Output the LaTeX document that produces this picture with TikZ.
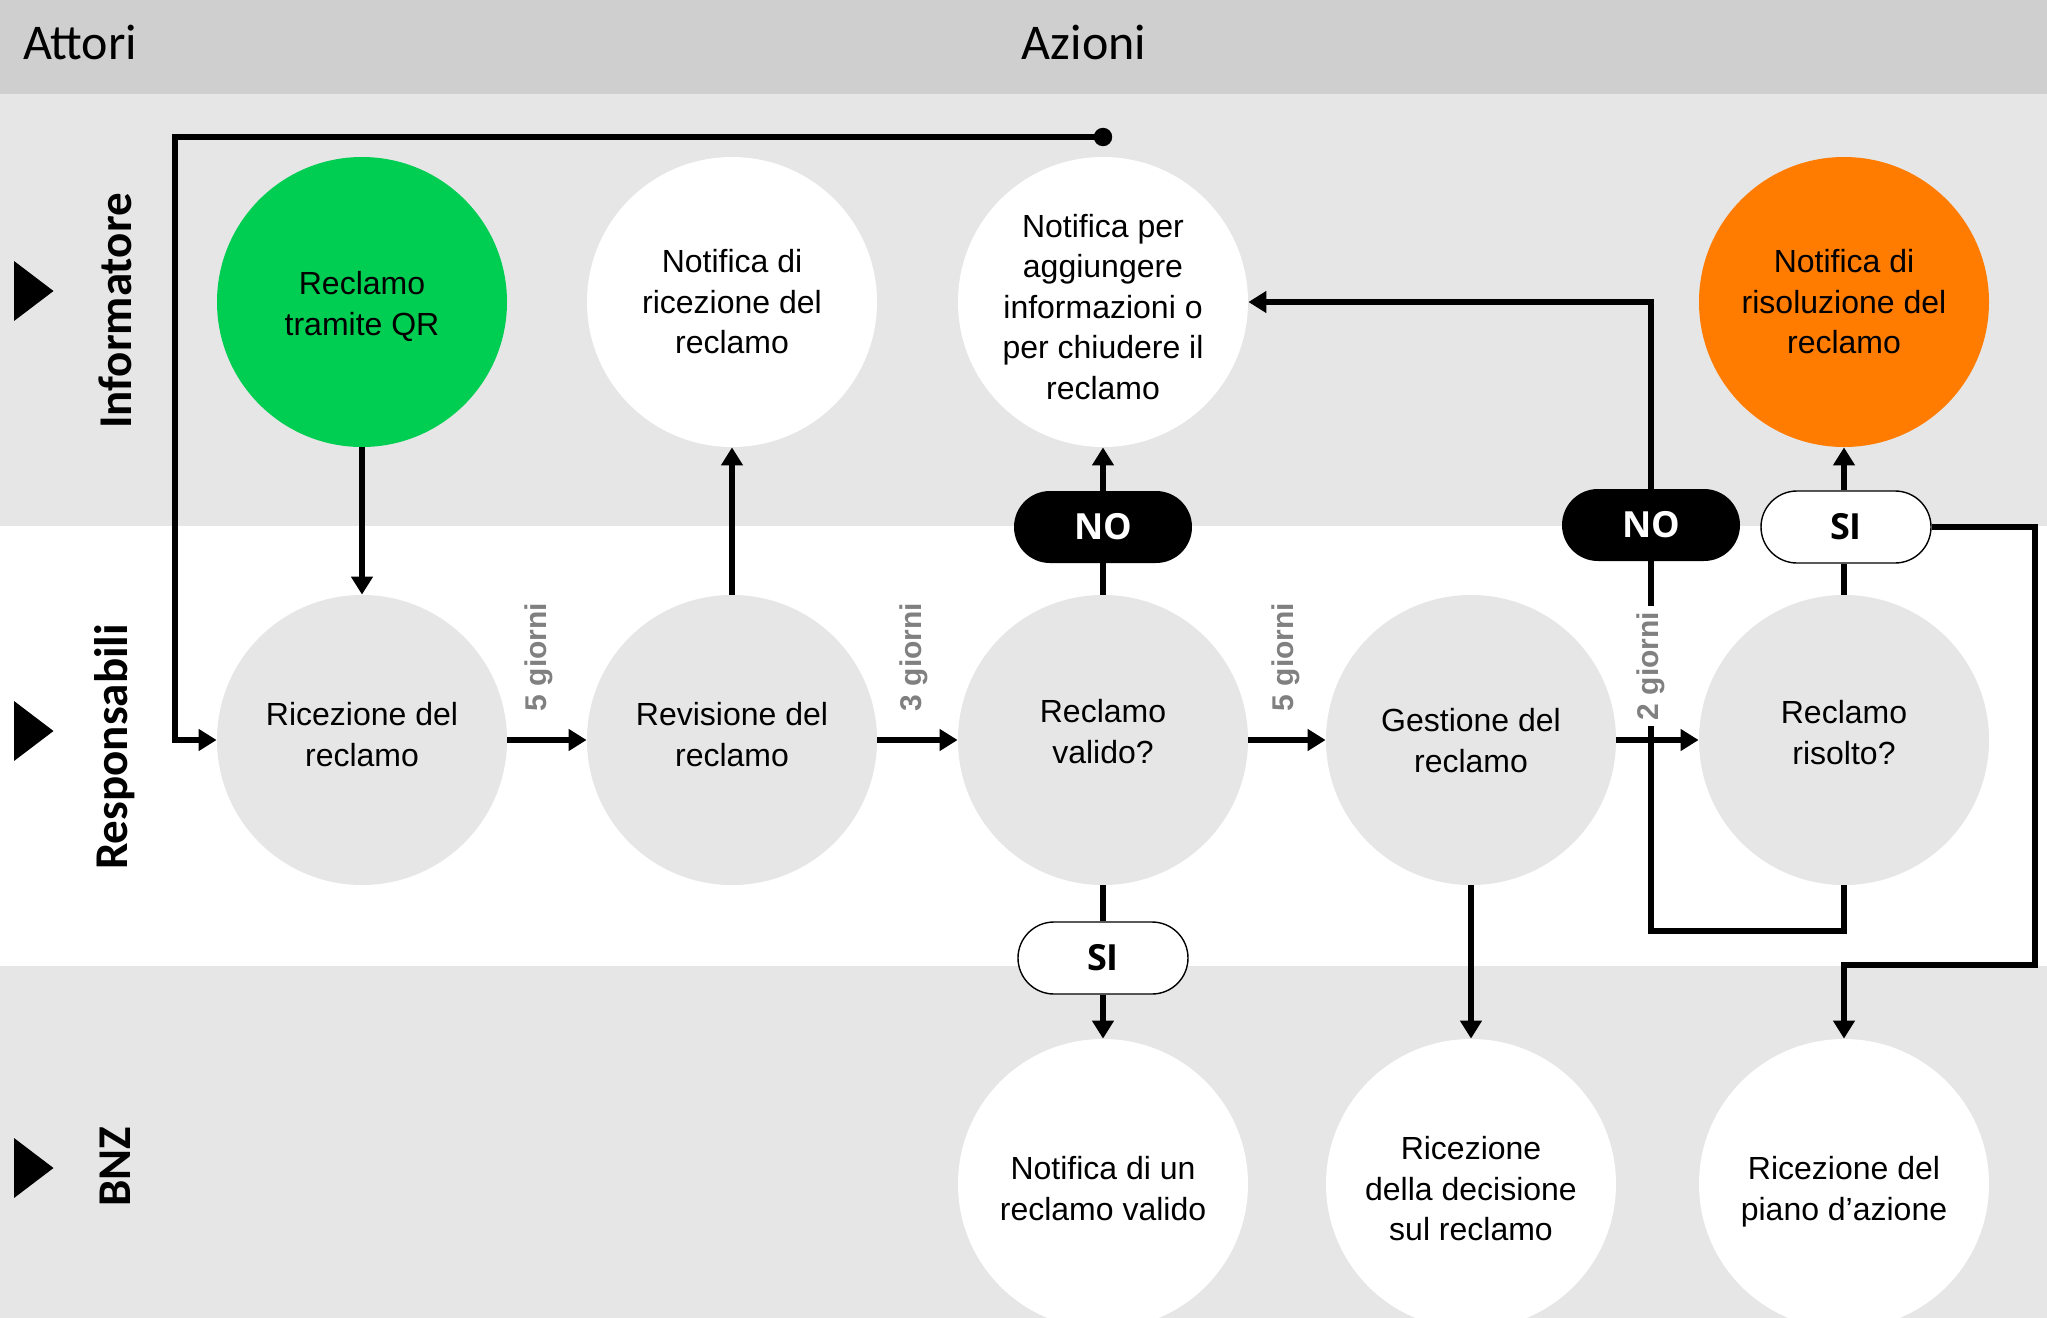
\documentclass[tikz,border=0pt]{standalone}
\usepackage{fontspec}
\setmainfont{Liberation Sans}
\newfontfamily\hdrfont{Carlito}
\newfontfamily\pillfont{Open Sans}
\usetikzlibrary{arrows.meta}
\definecolor{hdrgray}{RGB}{208,207,208}
\definecolor{lanegray}{RGB}{230,230,230}
\definecolor{qrgreen}{RGB}{0,206,82}
\definecolor{resorange}{RGB}{255,124,0}
\definecolor{daysgray}{RGB}{128,128,128}
\newcommand{\shiftlines}[2]{\raisebox{#1}[\height][\depth]{\begin{tabular}{@{}c@{}}#2\end{tabular}}}
\begin{document}
\begin{tikzpicture}[x=0.5pt,y=-0.5pt,
  conn/.style={line width=2.6pt,-{Triangle[length=9pt,width=10.5pt]}},
  plain/.style={line width=2.6pt},
  bubble/.style={circle,minimum size=145pt,inner sep=0pt,align=center,
    font=\fontsize{16}{20.25}\selectfont},
  topb/.style={bubble,fill=white},
  midb/.style={bubble,fill=lanegray},
  botb/.style={bubble,fill=white},
  pillno/.style={rectangle,rounded corners=18pt,fill=black,text=white,
    minimum width=89pt,minimum height=36pt,inner sep=0pt,
    font=\pillfont\bfseries\fontsize{18}{20}\selectfont},
  pillsi/.style={rectangle,rounded corners=18pt,fill=white,draw=black,line width=0.7pt,
    minimum width=85pt,minimum height=36pt,inner sep=0pt,
    font=\pillfont\bfseries\fontsize{18}{20}\selectfont},
  days/.style={rotate=90,text=daysgray,inner sep=3pt,
    font=\bfseries\fontsize{15}{17}\selectfont},
  lanelbl/.style={rotate=90,font=\hdrfont\bfseries\fontsize{23.5}{26}\selectfont},
  hdrlbl/.style={font=\hdrfont\fontsize{25}{28}\selectfont}
]
\clip (0,0) rectangle (2047,1318);
% backgrounds
\fill[hdrgray] (0,0) rectangle (2047,94);
\fill[lanegray] (0,94) rectangle (2047,526);
\fill[white] (0,526) rectangle (2047,966);
\fill[lanegray] (0,966) rectangle (2047,1318);

% header
\node[hdrlbl,anchor=west] (hattori) at (16,42) {Attori};
\node[hdrlbl] (hazioni) at (1084,42) {Azioni};

% lane markers
\fill (14,261) -- (53.5,291) -- (14,321) -- cycle;
\fill (14,701) -- (53.5,731) -- (14,761) -- cycle;
\fill (14,1138) -- (53.5,1168) -- (14,1198) -- cycle;
\node[lanelbl] (linf) at (115,311) {Informatore};
\node[lanelbl] (lres) at (115,747) {Responsabili};
\node[lanelbl] (lbnz) at (115,1167) {BNZ};

% top row
\node[topb,fill=qrgreen] (qr) at (362,302) {\shiftlines{-2.5pt}{Reclamo\\tramite QR}};
\node[topb] (nr) at (732,302) {Notifica di\\ricezione del\\reclamo};
\node[topb] (na) at (1103,302) {\shiftlines{-4pt}{Notifica per\\aggiungere\\informazioni o\\per chiudere il\\reclamo}};
\node[topb,fill=resorange] (nris) at (1844,302) {Notifica di\\risoluzione del\\reclamo};

% middle row
\node[midb] (ric) at (362,740) {\shiftlines{1pt}{Ricezione del\\reclamo}};
\node[midb] (rev) at (732,740) {\shiftlines{1pt}{Revisione del\\reclamo}};
\node[midb] (val) at (1103,740) {\shiftlines{2.5pt}{Reclamo\\valido?}};
\node[midb] (ges) at (1471,740) {\shiftlines{-2pt}{Gestione del\\reclamo}};
\node[midb] (ris) at (1844,740) {\shiftlines{2pt}{Reclamo\\risolto?}};

% bottom row
\node[botb] (nv) at (1103,1184) {\shiftlines{-4pt}{Notifica di un\\reclamo valido}};
\node[botb] (rd) at (1471,1184) {\shiftlines{-4pt}{Ricezione\\della decisione\\sul reclamo}};
\node[botb] (rp) at (1844,1184) {\shiftlines{-4pt}{Ricezione del\\piano d’azione}};

% pills
\node[pillno] (no1) at (1103,527) {NO};
\node[pillno] (no2) at (1651,525) {NO};
\node[pillsi] (si1) at (1846,527) {SI};
\node[pillsi] (si2) at (1103,958) {SI};

% connectors
\coordinate (dot) at (1103,137);
\coordinate (loopc) at (175,740);
\fill (dot) circle[radius=4.6pt];
\draw[conn] (dot) -| (loopc) -- (ric.west);
\draw[conn] (qr) -- (ric);
\draw[conn] (ric) -- (rev);
\draw[conn] (rev) -- (nr);
\draw[conn] (rev) -- (val);
\draw[plain] (val) -- (no1);
\draw[conn] (no1) -- (na);
\draw[plain] (val) -- (si2);
\draw[conn] (si2) -- (nv);
\draw[conn] (val) -- (ges);
\draw[conn] (ges) -- (ris);
\draw[conn] (ges) -- (rd);
\draw[plain] (ris.north) -- (ris.north |- si1.south);
\draw[conn] (ris.north |- si1.north) -- (nris);
\coordinate (rloop) at (1651,931);
\draw[plain] (ris.south) |- (rloop) -- (no2.south);
\draw[conn] (no2.north) |- (na.east);
\coordinate (rr) at (2035,965);
\draw[conn] (si1.east) -| (rr) -| (rp.north);

% day labels
\node[days] (d1) at (539,657) {5 giorni};
\node[days] (d2) at (914,657) {3 giorni};
\node[days] (d3) at (1286,657) {5 giorni};
\node[days,fill=white] (d4) at (1651,666) {2 giorni};
\end{tikzpicture}
\end{document}
